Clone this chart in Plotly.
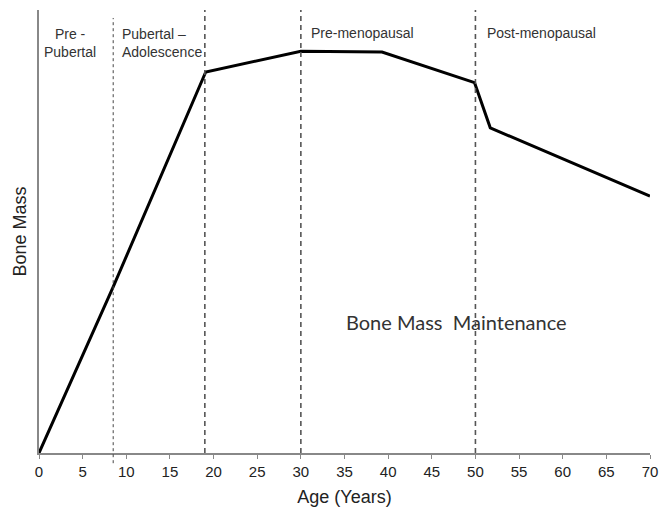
import plotly.graph_objects as go

# Data
age = [0, 8.5, 19.1, 30, 39.3, 49.9, 51.7, 70]
bone_mass = [0, 37.5, 86.0, 90.7, 90.5, 83.6, 73.4, 58.0]

phase_bounds = [8.5, 19.0, 30, 50]
x_ticks = list(range(0, 75, 5))

phase_labels = ["Pre -<br>Pubertal", "Pubertal –<br>Adolescence", "Pre-menopausal", "Post-menopausal"]
phase_label_x = [3.6, 9.3, 30.9, 51.1]

fig = go.Figure()
fig.add_trace(go.Scatter(x=age, y=bone_mass, mode="lines",
                         line=dict(color="black", width=3), showlegend=False,
                         hoverinfo="skip"))

shapes = []
for i, xb in enumerate(phase_bounds):
    if i == 0:
        shapes.append(dict(type="line", xref="x", yref="paper", x0=xb, x1=xb,
                           y0=-0.023, y1=0.982,
                           line=dict(color="#444", width=1, dash="3px,3px")))
    else:
        shapes.append(dict(type="line", xref="x", yref="paper", x0=xb, x1=xb,
                           y0=0, y1=1.0,
                           line=dict(color="#555", width=1.6, dash="5px,4px")))

annotations = []
annotations.append(dict(x=phase_label_x[0], y=0.926, xref="x", yref="paper",
                        text=phase_labels[0], showarrow=False, xanchor="center",
                        yanchor="middle", align="center",
                        font=dict(family="Liberation Sans, Arial", size=14, color="#333")))
annotations.append(dict(x=phase_label_x[1], y=0.926, xref="x", yref="paper",
                        text=phase_labels[1], showarrow=False, xanchor="left",
                        yanchor="middle", align="left",
                        font=dict(family="Liberation Sans, Arial", size=14, color="#333")))
for lab, lx in zip(phase_labels[2:], phase_label_x[2:]):
    annotations.append(dict(x=lx, y=0.948, xref="x", yref="paper", text=lab,
                            showarrow=False, xanchor="left", yanchor="middle",
                            font=dict(family="Liberation Sans, Arial", size=14, color="#333")))
annotations.append(dict(x=47.8, y=0.296, xref="x", yref="paper",
                        text="Bone Mass  Maintenance", showarrow=False,
                        xanchor="center", yanchor="middle",
                        font=dict(family="Lato, Open Sans", size=20, color="#333")))

fig.update_layout(
    width=661, height=508,
    margin=dict(l=39, r=11, t=10, b=55),
    paper_bgcolor="white", plot_bgcolor="white",
    shapes=shapes, annotations=annotations,
    xaxis=dict(range=[0, 70], tickvals=x_ticks, ticks="outside", ticklen=4,
               tickcolor="#888", showline=True, linecolor="#888", linewidth=1.5,
               showgrid=False, zeroline=False, automargin=False,
               tickfont=dict(family="Liberation Sans, Arial", size=15, color="#222"),
               title=dict(text="Age (Years)", standoff=12,
                          font=dict(family="Liberation Sans, Arial", size=18, color="#222"))),
    yaxis=dict(range=[0, 100], showticklabels=False, ticks="", showline=True,
               linecolor="#888", linewidth=1.5, showgrid=False, zeroline=False,
               automargin=False,
               title=dict(text="Bone Mass", standoff=6,
                          font=dict(family="Liberation Sans, Arial", size=18, color="#222"))),
)

# remove the default page margin so the 661x508 figure fills the window exactly
fig.write_html("out.html", config={"displayModeBar": False},
               post_script="document.body.style.margin='0';document.body.style.overflow='hidden';")
